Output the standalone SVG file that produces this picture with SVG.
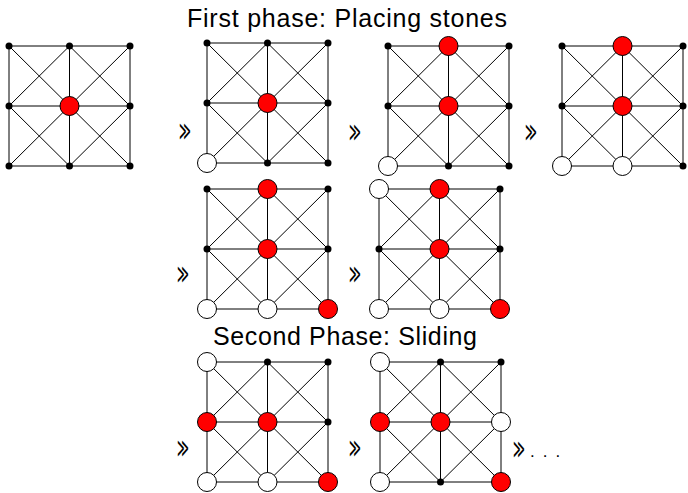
<svg xmlns="http://www.w3.org/2000/svg" xmlns:xlink="http://www.w3.org/1999/xlink" width="688" height="493" viewBox="0 0 688 493">
<style>
.title{font-family:"Liberation Sans","DejaVu Sans",sans-serif;font-size:25px;fill:#000}
.gg{font-family:"DejaVu Sans",sans-serif;font-size:27px;fill:#000;text-anchor:middle}
.grid{fill:none;stroke:#000;stroke-width:1}
.dot{fill:#000}
.red{fill:#ff0000;stroke:#000;stroke-width:1}
.white{fill:#fff;stroke:#000;stroke-width:1}
</style>
<defs>
<g id="grid">
<path class="grid" d="M0 0H121V120H0Z M60.5 0V120 M0 60H121 M0 0L121 120 M121 0L0 120 M60.5 0L0 60L60.5 120L121 60Z"/>
</g>
<circle id="d" class="dot" r="3.5"/>
<circle id="r" class="red" r="9.5"/>
<circle id="w" class="white" r="9.5"/>
</defs>
<text class="title" x="187" y="27" textLength="320" lengthAdjust="spacing">First phase: Placing stones</text>
<text class="title" x="213" y="345" textLength="264" lengthAdjust="spacing">Second Phase: Sliding</text>
<g id="connectors">
<text class="gg" transform="translate(185,140) scale(0.42,1)">≫</text>
<text class="gg" transform="translate(355,141) scale(0.42,1)">≫</text>
<text class="gg" transform="translate(531,141) scale(0.42,1)">≫</text>
<text class="gg" transform="translate(183,283) scale(0.42,1)">≫</text>
<text class="gg" transform="translate(355,283) scale(0.42,1)">≫</text>
<text class="gg" transform="translate(183,457) scale(0.42,1)">≫</text>
<text class="gg" transform="translate(355,457) scale(0.42,1)">≫</text>
<text class="gg" transform="translate(519,458) scale(0.42,1)">≫</text>
<text x="530" y="457" font-family="Liberation Sans" font-size="17" letter-spacing="8" fill="#000">...</text>
</g>
<g id="board1" transform="translate(9,46)">
<use href="#grid"/>
<use href="#d" x="0" y="0"/><use href="#d" x="60.5" y="0"/><use href="#d" x="121" y="0"/>
<use href="#d" x="0" y="60"/><use href="#r" x="60.5" y="60"/><use href="#d" x="121" y="60"/>
<use href="#d" x="0" y="120"/><use href="#d" x="60.5" y="120"/><use href="#d" x="121" y="120"/>
</g>
<g id="board2" transform="translate(207,43)">
<use href="#grid"/>
<use href="#d" x="0" y="0"/><use href="#d" x="60.5" y="0"/><use href="#d" x="121" y="0"/>
<use href="#d" x="0" y="60"/><use href="#r" x="60.5" y="60"/><use href="#d" x="121" y="60"/>
<use href="#w" x="0" y="120"/><use href="#d" x="60.5" y="120"/><use href="#d" x="121" y="120"/>
</g>
<g id="board3" transform="translate(388,46)">
<use href="#grid"/>
<use href="#d" x="0" y="0"/><use href="#r" x="60.5" y="0"/><use href="#d" x="121" y="0"/>
<use href="#d" x="0" y="60"/><use href="#r" x="60.5" y="60"/><use href="#d" x="121" y="60"/>
<use href="#w" x="0" y="120"/><use href="#d" x="60.5" y="120"/><use href="#d" x="121" y="120"/>
</g>
<g id="board4" transform="translate(562,46)">
<use href="#grid"/>
<use href="#d" x="0" y="0"/><use href="#r" x="60.5" y="0"/><use href="#d" x="121" y="0"/>
<use href="#d" x="0" y="60"/><use href="#r" x="60.5" y="60"/><use href="#d" x="121" y="60"/>
<use href="#w" x="0" y="120"/><use href="#w" x="60.5" y="120"/><use href="#d" x="121" y="120"/>
</g>
<g id="board5" transform="translate(207,189)">
<use href="#grid"/>
<use href="#d" x="0" y="0"/><use href="#r" x="60.5" y="0"/><use href="#d" x="121" y="0"/>
<use href="#d" x="0" y="60"/><use href="#r" x="60.5" y="60"/><use href="#d" x="121" y="60"/>
<use href="#w" x="0" y="120"/><use href="#w" x="60.5" y="120"/><use href="#r" x="121" y="120"/>
</g>
<g id="board6" transform="translate(379,189)">
<use href="#grid"/>
<use href="#w" x="0" y="0"/><use href="#r" x="60.5" y="0"/><use href="#d" x="121" y="0"/>
<use href="#d" x="0" y="60"/><use href="#r" x="60.5" y="60"/><use href="#d" x="121" y="60"/>
<use href="#w" x="0" y="120"/><use href="#w" x="60.5" y="120"/><use href="#r" x="121" y="120"/>
</g>
<g id="board7" transform="translate(207,362)">
<use href="#grid"/>
<use href="#w" x="0" y="0"/><use href="#d" x="60.5" y="0"/><use href="#d" x="121" y="0"/>
<use href="#r" x="0" y="60"/><use href="#r" x="60.5" y="60"/><use href="#d" x="121" y="60"/>
<use href="#w" x="0" y="120"/><use href="#w" x="60.5" y="120"/><use href="#r" x="121" y="120"/>
</g>
<g id="board8" transform="translate(380,362)">
<use href="#grid"/>
<use href="#w" x="0" y="0"/><use href="#d" x="60.5" y="0"/><use href="#d" x="121" y="0"/>
<use href="#r" x="0" y="60"/><use href="#r" x="60.5" y="60"/><use href="#w" x="121" y="60"/>
<use href="#w" x="0" y="120"/><use href="#d" x="60.5" y="120"/><use href="#r" x="121" y="120"/>
</g>
</svg>
